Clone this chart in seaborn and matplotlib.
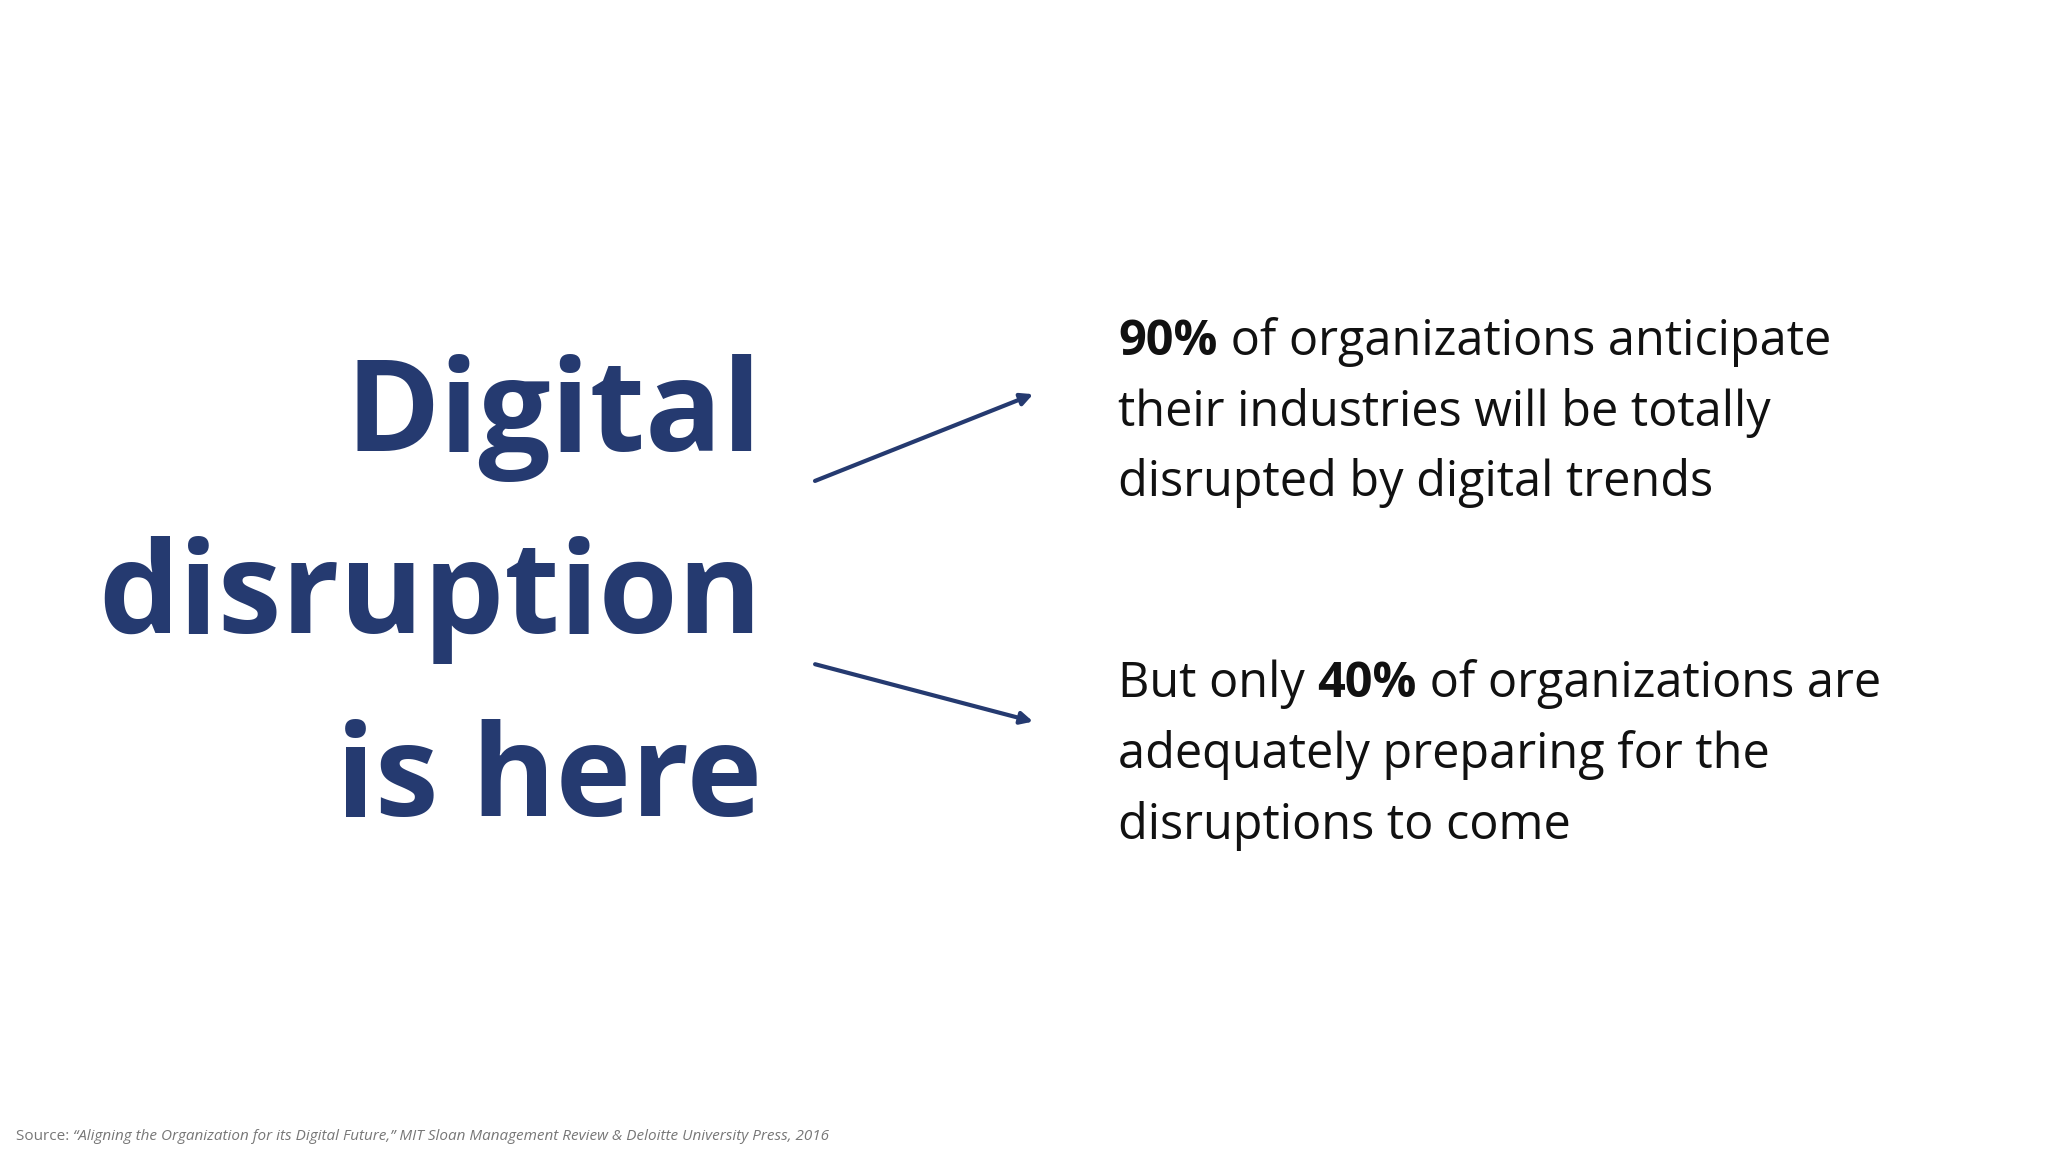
import matplotlib
matplotlib.use("Agg")
import matplotlib.pyplot as plt
import seaborn as sns

title_lines = ["Digital", "disruption", "is here"]
stat_values = [90, 40]
stat1_lines = [("", "90%", " of organizations anticipate"),
               ("their industries will be totally", "", ""),
               ("disrupted by digital trends", "", "")]
stat2_lines = [("But only ", "40%", " of organizations are"),
               ("adequately preparing for the", "", ""),
               ("disruptions to come", "", "")]
source_prefix = "Source: "
source_text = "\u201cAligning the Organization for its Digital Future,\u201d MIT Sloan Management Review & Deloitte University Press, 2016"

sns.set_theme(style="white")
plt.rcParams['font.family'] = ['Open Sans', 'DejaVu Sans']
fig = plt.figure(figsize=(20.48, 11.52), dpi=100)
ax = fig.add_axes([0, 0, 1, 1])
ax.set_axis_off()
ax.set_xlim(0, 1); ax.set_ylim(0, 1)

navy = "#253a70"
for i, line in enumerate(title_lines):
    y = 1 - (345 + 140 * i) / 882
    fig.text(0.372, y, line, ha="right", va="baseline", fontsize=92,
             fontweight="bold", color=navy)

renderer = fig.canvas.get_renderer()

def rich_line(x, y, parts, size=35):
    for txt, w in zip(parts, ["normal", "bold", "normal"]):
        if not txt:
            continue
        t = fig.text(x, y, txt, ha="left", va="baseline", fontsize=size,
                     fontweight=w, color="#111111")
        bb = t.get_window_extent(renderer)
        x += bb.width / fig.bbox.width

for block, y0 in [(stat1_lines, 272), (stat2_lines, 534)]:
    for j, parts in enumerate(block):
        rich_line(0.546, 1 - (y0 + 54 * j) / 882, parts)

arrow_kw = dict(arrowstyle="-|>", color=navy, lw=3, mutation_scale=18)
ax.annotate("", xy=(793/1568, 1-301/882), xytext=(622/1568, 1-369/882), arrowprops=arrow_kw)
ax.annotate("", xy=(793/1568, 1-553/882), xytext=(622/1568, 1-508/882), arrowprops=arrow_kw)

t = fig.text(0.0077, 0.01, source_prefix, fontsize=11, color="#777777", va="baseline")
w = t.get_window_extent(renderer).width / fig.bbox.width
fig.text(0.0077 + w, 0.01, source_text, fontsize=11, color="#777777",
         style="italic", va="baseline")

fig.savefig("out.png", dpi=100, facecolor="white")
